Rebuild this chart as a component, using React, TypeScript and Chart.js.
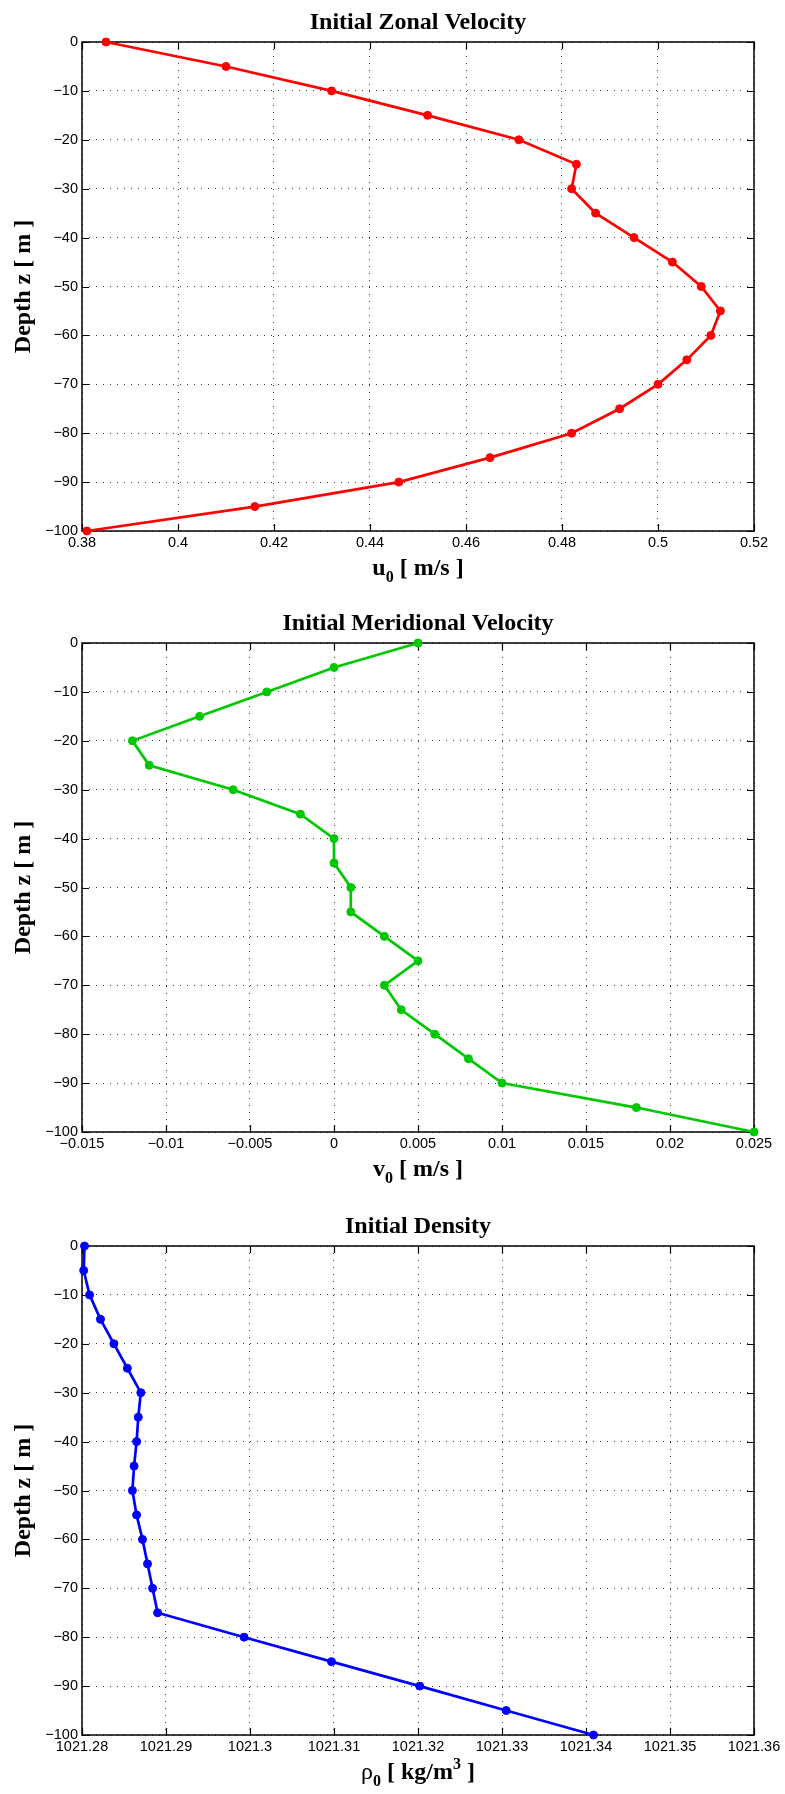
import React, { useEffect, useRef } from 'react';
import { Chart, registerables } from 'chart.js';

Chart.register(...registerables);

// Depth levels shared by all three profiles (m)
const depths = [0, -5, -10, -15, -20, -25, -30, -35, -40, -45, -50, -55, -60, -65, -70, -75, -80, -85, -90, -95, -100];

// Zonal velocity u0 (m/s)
const zonalVelocity = [0.385, 0.41, 0.432, 0.452, 0.471, 0.483, 0.482, 0.487, 0.495, 0.503, 0.509, 0.513, 0.511, 0.506, 0.5, 0.492, 0.482, 0.465, 0.446, 0.416, 0.381];

// Meridional velocity v0 (m/s)
const meridionalVelocity = [0.005, 0, -0.004, -0.008, -0.012, -0.011, -0.006, -0.002, 0, 0, 0.001, 0.001, 0.003, 0.005, 0.003, 0.004, 0.006, 0.008, 0.01, 0.018, 0.025];

// Density rho0 (kg/m^3)
const density = [1021.2803, 1021.2802, 1021.2809, 1021.2822, 1021.2838, 1021.2854, 1021.287, 1021.2867, 1021.2865, 1021.2862, 1021.286, 1021.2865, 1021.2872, 1021.2878, 1021.2884, 1021.289, 1021.2993, 1021.3097, 1021.3202, 1021.3305, 1021.3409];

// Tick values
const depthTicks = [0, -10, -20, -30, -40, -50, -60, -70, -80, -90, -100];
const zonalTicks = [0.38, 0.4, 0.42, 0.44, 0.46, 0.48, 0.5, 0.52];
const meridionalTicks = [-0.015, -0.01, -0.005, 0, 0.005, 0.01, 0.015, 0.02, 0.025];
const densityTicks = [1021.28, 1021.29, 1021.3, 1021.31, 1021.32, 1021.33, 1021.34, 1021.35, 1021.36];

const SERIF = "'Liberation Serif', 'Times New Roman', serif";
const SANS = "'Liberation Sans', Arial, Helvetica, sans-serif";
const BIG = `bold 24px ${SERIF}`;
const BIG_PLAIN = `24px ${SERIF}`;
const SMALL = `bold 16px ${SERIF}`;

type Run = { text: string; font: string; dy?: number };

const PAGE_W = 785;
const PLOT_LEFT = 82;
const PLOT_RIGHT = 754;

function fmt(v: number): string {
  const r = Math.round(v * 1e6) / 1e6;
  if (r === 0) return '0';
  return r < 0 ? '\u2212' + String(Math.abs(r)) : String(r);
}

function drawRuns(ctx: CanvasRenderingContext2D, runs: Run[], cx: number, baseline: number) {
  ctx.save();
  ctx.textAlign = 'left';
  ctx.textBaseline = 'alphabetic';
  ctx.fillStyle = '#000';
  const widths = runs.map((r) => {
    ctx.font = r.font;
    return ctx.measureText(r.text).width;
  });
  const total = widths.reduce((a, b) => a + b, 0);
  let x = cx - total / 2;
  runs.forEach((r, i) => {
    ctx.font = r.font;
    ctx.fillText(r.text, x, baseline + (r.dy || 0));
    x += widths[i];
  });
  ctx.restore();
}

function makeFramePlugin(title: string, xLabel: Run[]) {
  return {
    id: 'frame',
    beforeDatasetsDraw(chart: any) {
      const { ctx, chartArea: a, scales } = chart;
      ctx.save();
      // inward tick marks on all four sides
      const L = 7;
      ctx.strokeStyle = '#000';
      ctx.lineWidth = 1.2;
      ctx.beginPath();
      scales.x.ticks.forEach((t: any) => {
        const px = Math.round(scales.x.getPixelForValue(t.value)) + 0.5;
        ctx.moveTo(px, a.bottom);
        ctx.lineTo(px, a.bottom - L);
        ctx.moveTo(px, a.top);
        ctx.lineTo(px, a.top + L);
      });
      scales.y.ticks.forEach((t: any) => {
        const py = Math.round(scales.y.getPixelForValue(t.value)) + 0.5;
        ctx.moveTo(a.left, py);
        ctx.lineTo(a.left + L, py);
        ctx.moveTo(a.right, py);
        ctx.lineTo(a.right - L, py);
      });
      ctx.stroke();
      // axes box
      ctx.lineWidth = 1.5;
      ctx.strokeRect(a.left, a.top, a.right - a.left, a.bottom - a.top);
      ctx.restore();
    },
    afterDraw(chart: any) {
      const { ctx, chartArea: a } = chart;
      const cx = (a.left + a.right) / 2;
      drawRuns(ctx, [{ text: title, font: BIG }], cx, a.top - 13);
      drawRuns(ctx, xLabel, cx, a.bottom + 44);
      ctx.save();
      ctx.translate(24, (a.top + a.bottom) / 2);
      ctx.rotate(-Math.PI / 2);
      ctx.font = BIG;
      ctx.fillStyle = '#000';
      ctx.textAlign = 'center';
      ctx.textBaseline = 'middle';
      ctx.fillText('Depth z [ m ]', 0, 0);
      ctx.restore();
    },
  };
}

type PanelProps = {
  top: number;
  height: number;
  padTop: number;
  axisHeight: number;
  values: number[];
  ticks: number[];
  color: string;
  title: string;
  xLabel: Run[];
};

function Panel({ top, height, padTop, axisHeight, values, ticks, color, title, xLabel }: PanelProps) {
  const ref = useRef<HTMLCanvasElement | null>(null);

  useEffect(() => {
    if (!ref.current) return;
    const tickFont = { family: SANS, size: 14.5 };
    const chart = new Chart(ref.current, {
      type: 'scatter',
      data: {
        datasets: [
          {
            data: depths.map((d, i) => ({ x: values[i], y: d })),
            showLine: true,
            borderColor: color,
            backgroundColor: color,
            borderWidth: 2.7,
            pointRadius: 4,
            pointBorderWidth: 1,
            pointHoverRadius: 4,
            clip: false,
          } as any,
        ],
      },
      options: {
        responsive: false,
        animation: false,
        devicePixelRatio: 1,
        events: [],
        layout: { padding: { top: padTop, right: PAGE_W - PLOT_RIGHT, left: 0, bottom: 0 } },
        plugins: { legend: { display: false }, tooltip: { enabled: false } },
        scales: {
          x: {
            type: 'linear',
            min: ticks[0],
            max: ticks[ticks.length - 1],
            afterBuildTicks: (s: any) => {
              s.ticks = ticks.map((v) => ({ value: v }));
            },
            afterFit: (s: any) => {
              s.height = axisHeight;
            },
            ticks: {
              callback: (v: any) => fmt(Number(v)),
              font: tickFont,
              color: '#000',
              padding: 3,
              maxRotation: 0,
              autoSkip: false,
            },
            grid: { color: '#3a3a3a', lineWidth: 1, drawTicks: false },
            border: { display: false, dash: [1, 6] },
          },
          y: {
            type: 'linear',
            min: -100,
            max: 0,
            afterBuildTicks: (s: any) => {
              s.ticks = depthTicks.map((v) => ({ value: v }));
            },
            afterFit: (s: any) => {
              s.width = PLOT_LEFT;
            },
            ticks: {
              callback: (v: any) => fmt(Number(v)),
              font: tickFont,
              color: '#000',
              padding: 4,
              autoSkip: false,
            },
            grid: { color: '#3a3a3a', lineWidth: 1, drawTicks: false },
            border: { display: false, dash: [1, 6] },
          },
        },
      } as any,
      plugins: [makeFramePlugin(title, xLabel)],
    });
    return () => chart.destroy();
  }, []);

  return (
    <canvas
      ref={ref}
      width={PAGE_W}
      height={height}
      style={{ position: 'absolute', left: 0, top, width: PAGE_W, height, display: 'block' }}
    />
  );
}

export default function App() {
  return (
    <div style={{ position: 'absolute', left: 0, top: 0, width: PAGE_W, height: 1794, background: '#fff' }}>
      <Panel
        top={0}
        height={595}
        padTop={42}
        axisHeight={64}
        values={zonalVelocity}
        ticks={zonalTicks}
        color="#ff0000"
        title="Initial Zonal Velocity"
        xLabel={[
          { text: 'u', font: BIG },
          { text: '0', font: SMALL, dy: 7 },
          { text: ' [ m/s ]', font: BIG },
        ]}
      />
      <Panel
        top={595}
        height={600}
        padTop={48}
        axisHeight={63}
        values={meridionalVelocity}
        ticks={meridionalTicks}
        color="rgb(0,200,0)"
        title="Initial Meridional Velocity"
        xLabel={[
          { text: 'v', font: BIG },
          { text: '0', font: SMALL, dy: 7 },
          { text: ' [ m/s ]', font: BIG },
        ]}
      />
      <Panel
        top={1195}
        height={599}
        padTop={51}
        axisHeight={59}
        values={density}
        ticks={densityTicks}
        color="#0000ff"
        title="Initial Density"
        xLabel={[
          { text: '\u03c1', font: BIG_PLAIN },
          { text: '0', font: SMALL, dy: 7 },
          { text: ' [ kg/m', font: BIG },
          { text: '3', font: SMALL, dy: -10 },
          { text: ' ]', font: BIG },
        ]}
      />
    </div>
  );
}
